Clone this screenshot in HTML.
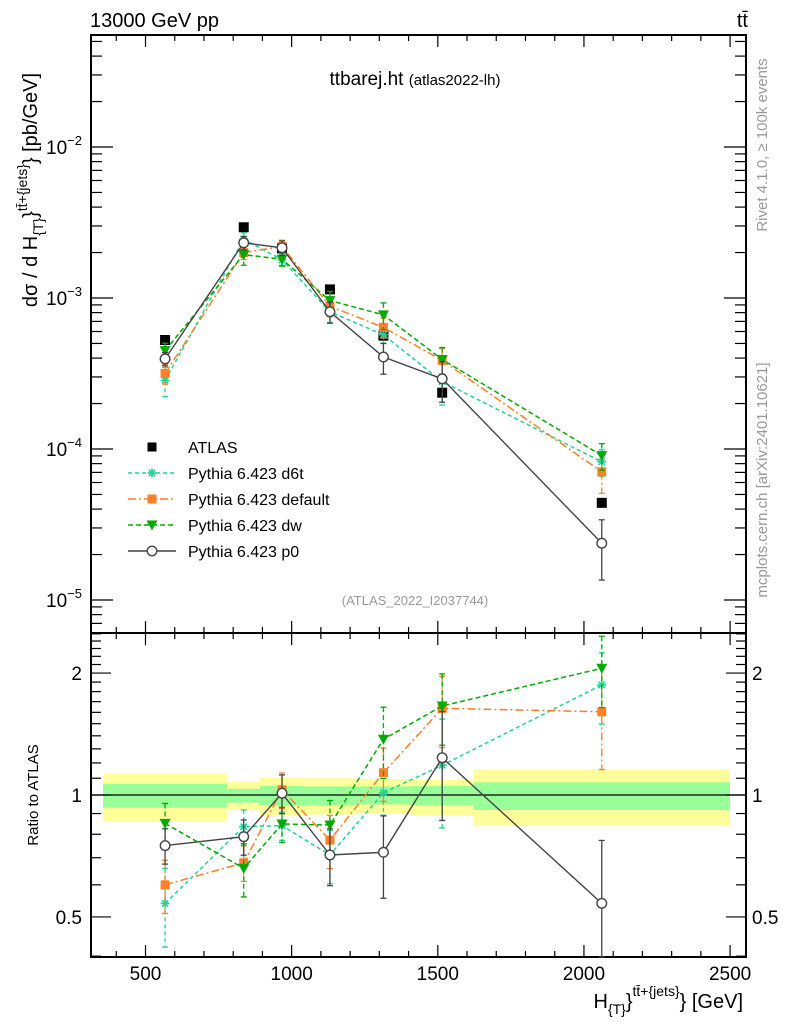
<!DOCTYPE html>
<html><head><meta charset="utf-8">
<style>
html,body{margin:0;padding:0;background:#fff;}
svg{display:block;font-family:"Liberation Sans",sans-serif;}
</style></head>
<body>
<svg id="chart" width="786" height="1024" viewBox="0 0 786 1024">
<g id="bands"></g>
<g id="axes"></g>
<g id="series"></g>
<text x="90" y="27" font-size="20">13000 GeV pp</text>
<text x="748" y="27" font-size="20" text-anchor="end">tt̄</text>
<text x="415" y="85" font-size="19" text-anchor="middle">ttbarej.ht <tspan font-size="15">(atlas2022-lh)</tspan></text>
<text x="415" y="605" font-size="13" fill="#999" text-anchor="middle">(ATLAS_2022_I2037744)</text>
<text transform="translate(767,145) rotate(-90)" font-size="15" fill="#999" text-anchor="middle">Rivet 4.1.0, ≥ 100k events</text>
<text transform="translate(767,480) rotate(-90)" font-size="15" fill="#999" text-anchor="middle">mcplots.cern.ch [arXiv:2401.10621]</text>
<text transform="translate(37,190) rotate(-90)" font-size="20" text-anchor="middle">dσ / d H<tspan font-size="14" dy="6">{T}</tspan><tspan dy="-6">}</tspan><tspan font-size="14" dy="-10">tt̄+{jets}</tspan><tspan dy="10">} [pb/GeV]</tspan></text>
<text transform="translate(38,795) rotate(-90)" font-size="15" text-anchor="middle">Ratio to ATLAS</text>
<text x="743" y="1008" font-size="20" text-anchor="end">H<tspan font-size="14" dy="6">{T}</tspan><tspan dy="-6">}</tspan><tspan font-size="14" dy="-12">tt̄+{jets}</tspan><tspan dy="12">} [GeV]</tspan></text>
<g id="legend"></g>
</svg>
<script>
const binEdges=[355,780,892,1042,1220,1408,1623,2500];
const binCenters=[567,836,967,1131,1314,1515,2061];
const atlasVals=[0.527e-3,2.94e-3,2.13e-3,1.14e-3,0.563e-3,0.236e-3,0.044e-3];
const bandYellowHi=[1.131,1.077,1.103,1.10,1.095,1.09,1.157];
const bandYellowLo=[0.860,0.918,0.892,0.895,0.90,0.89,0.840];
const bandGreenHi=[1.065,1.036,1.052,1.05,1.05,1.052,1.075];
const bandGreenLo=[0.930,0.957,0.943,0.945,0.948,0.943,0.918];
const ratioD6t=[0.54,0.835,0.84,0.711,1.013,1.184,1.87];
const ratioDefault=[0.60,0.68,1.03,0.774,1.135,1.637,1.605];
const ratioDw=[0.851,0.659,0.848,0.843,1.373,1.659,2.055];
const ratioP0=[0.75,0.789,1.01,0.711,0.722,1.236,0.54];
const errD6t=[0.22,0.1,0.08,0.15,0.12,0.3,0.2];
const errDefault=[0.15,0.1,0.1,0.15,0.15,0.2,0.28];
const errDw=[0.12,0.15,0.1,0.15,0.2,0.2,0.2];
const errP0=[0.1,0.1,0.11,0.16,0.23,0.3,0.43];
const xTicks=[500,1000,1500,2000,2500];
const yDecades=[-5,-4,-3,-2];
const ratioTicks=[0.5,1,2];

const NS='http://www.w3.org/2000/svg';
const L=91,R=746,T1=35,B1=633,B2=957;
const X=v=>145.5+(v-500)*0.2923;
const Y=v=>298-151*Math.log10(v/1e-3);
const YR=r=>795-405*Math.log10(r);
function mk(tag,attrs,parent){const e=document.createElementNS(NS,tag);for(const k in attrs)e.setAttribute(k,attrs[k]);parent.appendChild(e);return e;}
const ax=document.getElementById('axes'),bands=document.getElementById('bands'),ser=document.getElementById('series'),leg=document.getElementById('legend');

for(let i=0;i<binCenters.length;i++){
  const x0=X(binEdges[i]),x1=X(binEdges[i+1]);
  let e=mk('rect',{x:x0,y:YR(bandYellowHi[i]),width:x1-x0,height:YR(bandYellowLo[i])-YR(bandYellowHi[i]),fill:'#ffff99'},bands);
  
  
  e=mk('rect',{x:x0,y:YR(bandGreenHi[i]),width:x1-x0,height:YR(bandGreenLo[i])-YR(bandGreenHi[i]),fill:'#99ff99'},bands);
  
  
}
mk('line',{x1:L,x2:R,y1:YR(1),y2:YR(1),stroke:'#000','stroke-width':1.2},bands);

mk('rect',{x:L,y:T1,width:R-L,height:B1-T1,fill:'none',stroke:'#000','stroke-width':2},ax);
mk('rect',{x:L,y:B1,width:R-L,height:B2-B1,fill:'none',stroke:'#000','stroke-width':2},ax);
for(let v=400;v<=2500;v+=100){
  const x=X(v);const maj=v%500===0;const l=maj?12:6;
  for(const [y,d] of [[T1,1],[B1,-1],[B1,1],[B2,-1]]) mk('line',{x1:x,x2:x,y1:y,y2:y+d*l,stroke:'#000','stroke-width':1.2},ax);
}
xTicks.forEach(v=>{const t=mk('text',{x:X(v),y:980,'font-size':19,'text-anchor':'middle'},ax);t.textContent=v;
  
  });
for(let d=-6;d<=-1;d++){for(let m=1;m<10;m++){const v=m*Math.pow(10,d);const y=Y(v);if(y<T1||y>B1)continue;const l=m===1?22:11;
  mk('line',{x1:L,x2:L+l,y1:y,y2:y,stroke:'#000','stroke-width':1.2},ax);
  mk('line',{x1:R,x2:R-l,y1:y,y2:y,stroke:'#000','stroke-width':1.2},ax);}}
yDecades.forEach(d=>{const t=mk('text',{x:82,y:Y(Math.pow(10,d))+7,'font-size':19,'text-anchor':'end'},ax);
  
  
  t.innerHTML='10<tspan font-size="13" dy="-9">'+(d<0?'−'+(-d):d)+'</tspan>';});
for(let k=4;k<=25;k++){const r=k/10;const y=YR(r);if(y<B1||y>B2)continue;const maj=(r===0.5||r===1||r===2);const l=maj?20:10;
  mk('line',{x1:L,x2:L+l,y1:y,y2:y,stroke:'#000','stroke-width':1.2},ax);
  mk('line',{x1:R,x2:R-l,y1:y,y2:y,stroke:'#000','stroke-width':1.2},ax);}
ratioTicks.forEach(r=>{for(const [x,a] of [[82,'end'],[752,'start']]){const t=mk('text',{x:x,y:YR(r)+7,'font-size':19,'text-anchor':a},ax);t.textContent=r;
  
  }});

const seriesDefs=[
 {name:'d6t',ratio:ratioD6t,err:errD6t,color:'#1fd39a',dash:'4,3',marker:'star',label:'Pythia 6.423 d6t'},
 {name:'default',ratio:ratioDefault,err:errDefault,color:'#ff7f2a',dash:'8,3,2,3',marker:'square',label:'Pythia 6.423 default'},
 {name:'dw',ratio:ratioDw,err:errDw,color:'#00aa00',dash:'5,3',marker:'tri',label:'Pythia 6.423 dw'},
 {name:'p0',ratio:ratioP0,err:errP0,color:'#444',dash:'',marker:'circle',label:'Pythia 6.423 p0'}
];
function marker(type,x,y,c,g){
  if(type==='square')return mk('rect',{x:x-4.5,y:y-4.5,width:9,height:9,fill:c},g);
  if(type==='tri')return mk('path',{d:`M${x-5.5},${y-4.5}L${x+5.5},${y-4.5}L${x},${y+5.5}Z`,fill:c},g);
  if(type==='circle')return mk('circle',{cx:x,cy:y,r:4.8,fill:'#fff',stroke:c,'stroke-width':1.4},g);
  const gg=mk('g',{stroke:c,'stroke-width':1.6},g);
  for(let a=0;a<4;a++){const t=a*Math.PI/4;mk('line',{x1:x-4.5*Math.cos(t),y1:y-4.5*Math.sin(t),x2:x+4.5*Math.cos(t),y2:y+4.5*Math.sin(t)},gg);}
  return gg;
}
seriesDefs.forEach(s=>{
  const g=mk('g',{},ser);
  
  
  const vals=s.ratio.map((r,i)=>r*atlasVals[i]);
  const main=vals.map((v,i)=>X(binCenters[i])+','+Y(v)).join(' ');
  const rat=s.ratio.map((r,i)=>X(binCenters[i])+','+YR(r)).join(' ');
  const sw=s.name==='p0'?1.4:1.5;
  mk('polyline',{points:main,fill:'none',stroke:s.color,'stroke-width':sw,'stroke-dasharray':s.dash},g);
  mk('polyline',{points:rat,fill:'none',stroke:s.color,'stroke-width':sw,'stroke-dasharray':s.dash},g);
  vals.forEach((v,i)=>{const x=X(binCenters[i]);const e=s.err[i];
    const hiM=v*(1+e),loM=v*(1-e),hiR=s.ratio[i]*(1+e),loR=s.ratio[i]*(1-e);
    for(const [a,b] of [[Y(hiM),Y(loM)],[Math.max(YR(hiR),B1),Math.min(YR(loR),B2)]]){
      mk('line',{x1:x,x2:x,y1:a,y2:b,stroke:s.color,'stroke-width':1.3,'stroke-dasharray':s.dash},g);
      mk('line',{x1:x-3,x2:x+3,y1:a,y2:a,stroke:s.color,'stroke-width':1.3},g);
      mk('line',{x1:x-3,x2:x+3,y1:b,y2:b,stroke:s.color,'stroke-width':1.3},g);}
    const m1=marker(s.marker,x,Y(v),s.color,g);
    
    
    const yr=YR(s.ratio[i]);
    if(yr<B2){const m2=marker(s.marker,x,yr,s.color,g);
      
      }
  });
});
const ag=mk('g',{},ser);


ser.insertBefore(ag,ser.firstChild);
atlasVals.forEach((v,i)=>{const x=X(binCenters[i]),y=Y(v);
  const r=mk('rect',{x:x-5,y:y-5,width:10,height:10,fill:'#000'},ag);
  
  });

const legItems=[{label:'ATLAS',color:'#000',marker:'square',dash:null}].concat(seriesDefs);
legItems.forEach((s,i)=>{const y=447+26*i;
  const g=mk('g',{},leg);
  
  
  if(s.dash!==null)mk('line',{x1:128,x2:176,y1:y,y2:y,stroke:s.color,'stroke-width':1.5,'stroke-dasharray':s.dash},g);
  marker(s.marker,152,y,s.color,g);
  const t=mk('text',{x:188,y:y+6,'font-size':16},g);t.textContent=s.label;});
</script>
</body></html>
